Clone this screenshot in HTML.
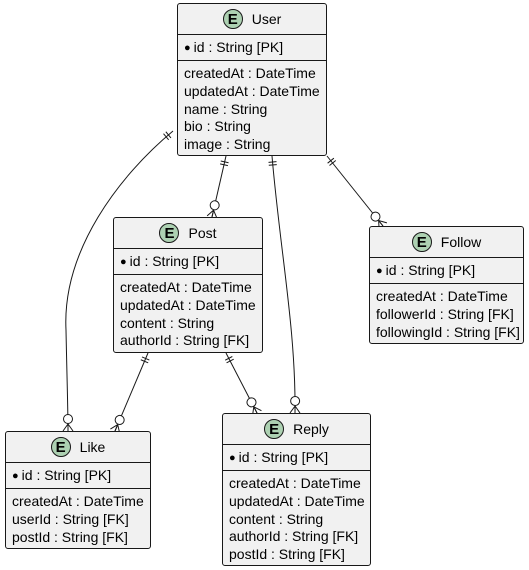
<!DOCTYPE html>
<html><head><meta charset="utf-8"><style>
body{margin:0;background:#fff;width:529px;height:570px;position:relative;overflow:hidden;font-family:"Liberation Sans",Arial,sans-serif;font-size:14px;color:#000}
.e{position:absolute;box-sizing:border-box;border:1px solid #181818;background:#f1f1f1;border-radius:3px}
.h{height:30px;display:flex;align-items:center;justify-content:center;border-bottom:1px solid #181818}
.c{width:20px;height:20px;border-radius:50%;background:#ADD1B2;border:1px solid #181818;box-sizing:border-box;display:flex;align-items:center;justify-content:center;font-weight:bold;font-size:15px;margin-right:9px}
.id{height:25px;line-height:25px;padding-left:6px;border-bottom:1px solid #181818;white-space:nowrap}
.r{padding:4px 0 0 6px;line-height:17.8px;white-space:nowrap}
.b{font-size:11px;margin-right:3px;position:relative;top:-1px}
svg{position:absolute;left:0;top:0}
</style></head><body>
<svg width="529" height="570">
<defs>
<marker id="me" markerUnits="userSpaceOnUse" viewBox="-20 -8 22 16" refX="0" refY="0" markerWidth="22" markerHeight="16" orient="auto">
<g stroke="#181818" stroke-width="1" fill="none">
<circle cx="-12" cy="0" r="4.5" fill="#fff"/>
<path d="M-7,0 L0,-5 M-7,0 L0,5 M-7,0 L0,0"/></g></marker>
<marker id="ms" markerUnits="userSpaceOnUse" viewBox="-2 -8 16 16" refX="0" refY="0" markerWidth="16" markerHeight="16" orient="auto">
<path d="M6,-4 L6,4 M9,-4 L9,4" stroke="#181818" fill="none"/></marker>
</defs>
<g stroke="#181818" stroke-width="1" fill="none" marker-start="url(#ms)" marker-end="url(#me)">
<path d="M173,131 C120,175 62,250 66,330 C67,380 68,410 68,431"/>
<path d="M226,156 L212,217"/>
<path d="M272,156 C280,250 296,330 295,413"/>
<path d="M327,156 L383,226"/>
<path d="M148,353 L115,431"/>
<path d="M226,353 L257,413"/>
</g>
</svg>

<div class="e" style="left:177px;top:3px;width:150px;height:153px">
<div class="h"><div class="c">E</div>User</div>
<div class="id"><span class="b">●</span>id : String [PK]</div>
<div class="r">createdAt : DateTime<br>updatedAt : DateTime<br>name : String<br>bio : String<br>image : String</div></div>

<div class="e" style="left:113px;top:217px;width:150px;height:136px">
<div class="h"><div class="c">E</div>Post</div>
<div class="id"><span class="b">●</span>id : String [PK]</div>
<div class="r">createdAt : DateTime<br>updatedAt : DateTime<br>content : String<br>authorId : String [FK]</div></div>

<div class="e" style="left:369px;top:226px;width:155px;height:118px">
<div class="h"><div class="c">E</div>Follow</div>
<div class="id"><span class="b">●</span>id : String [PK]</div>
<div class="r">createdAt : DateTime<br>followerId : String [FK]<br>followingId : String [FK]</div></div>

<div class="e" style="left:5px;top:431px;width:146px;height:118px">
<div class="h"><div class="c">E</div>Like</div>
<div class="id"><span class="b">●</span>id : String [PK]</div>
<div class="r">createdAt : DateTime<br>userId : String [FK]<br>postId : String [FK]</div></div>

<div class="e" style="left:222px;top:413px;width:149px;height:153px">
<div class="h"><div class="c">E</div>Reply</div>
<div class="id"><span class="b">●</span>id : String [PK]</div>
<div class="r">createdAt : DateTime<br>updatedAt : DateTime<br>content : String<br>authorId : String [FK]<br>postId : String [FK]</div></div>
</body></html>
